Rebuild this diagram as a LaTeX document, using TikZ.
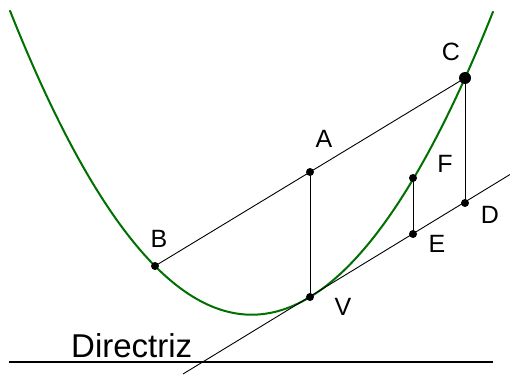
\documentclass[tikz,border=0pt]{standalone}
\usepackage{fontspec}
\setmainfont{Liberation Sans}
\definecolor{parab}{RGB}{0,112,0}
\begin{document}
\begin{tikzpicture}[x=1pt,y=-1pt,
  dot/.style={circle,fill=black,inner sep=0pt,minimum size=8pt},
  bigdot/.style={circle,fill=black,inner sep=0pt,minimum size=12pt},
  lbl/.style={anchor=base,inner sep=0pt,font=\fontsize{25}{30}\selectfont},
  thinline/.style={line width=0.9pt,black}]
\useasboundingbox (0,0) rectangle (510,374);
% parabola
\draw[parab,line width=2pt,line cap=round] plot[domain=10:493,samples=120] (\x,{314.7-(0.072132*(\x-251.7))^2});
% points
\coordinate (Bp) at (155,266);
\coordinate (Vp) at (310,297);
\coordinate (Cp) at (465,78);
\coordinate (Ap) at (310,172);
\coordinate (Fp) at (413,178);
\coordinate (Ep) at (413,234);
\coordinate (Dp) at (465,203);
\coordinate (T1) at (183,374);
\coordinate (T2) at (510,174.5);
\coordinate (L1) at (9,362);
\coordinate (L2) at (493,362);
% lines
\draw[thinline] (Bp) -- (Cp);
\draw[thinline] (Ap) -- (Vp);
\draw[thinline] (Fp) -- (Ep);
\draw[thinline] (Cp) -- (Dp);
\draw[thinline] (T1) -- (T2);
\draw[line width=1.4pt] (L1) -- (L2);
% dots
\node[dot] (B) at (Bp) {};
\node[dot] (V) at (Vp) {};
\node[bigdot] (C) at (Cp) {};
\node[dot] (A) at (Ap) {};
\node[dot] (F) at (Fp) {};
\node[dot] (E) at (Ep) {};
\node[dot] (D) at (Dp) {};
% labels
\node[lbl] (lA) at (324,147) {A};
\node[lbl] (lB) at (159,247) {B};
\node[lbl] (lC) at (451,61) {C};
\node[lbl] (lD) at (490,223) {D};
\node[lbl] (lE) at (437,252) {E};
\node[lbl] (lF) at (445,172) {F};
\node[lbl] (lV) at (343,315) {V};
\node[anchor=base west,inner sep=0pt,font=\fontsize{33}{38}\selectfont] (dir) at (71,357) {Directriz};
\end{tikzpicture}
\end{document}
